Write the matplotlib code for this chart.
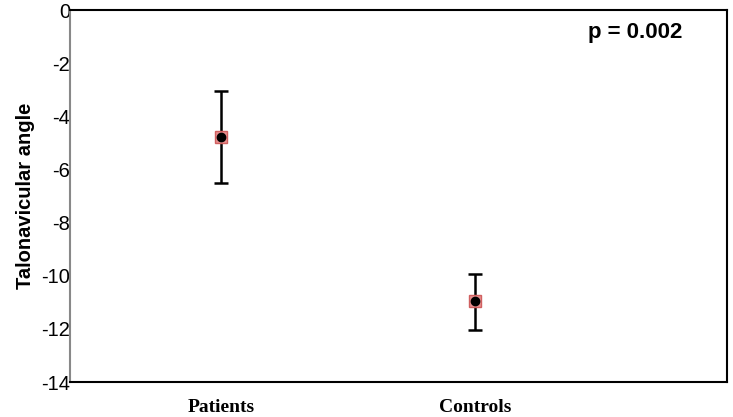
import numpy as np
import matplotlib.pyplot as plt

# data
groups = ["Patients", "Controls"]
means = [-4.78, -10.95]
upper = [-3.05, -9.94]
lower = [-6.51, -12.04]
p_text = "p = 0.002"

x = np.array([1, 2])
yerr = [np.array(means) - np.array(lower), np.array(upper) - np.array(means)]

fig = plt.figure(figsize=(7.33, 4.17), dpi=100)
ax = fig.add_axes([70 / 733, 35 / 417, 657 / 733, 372 / 417])

ax.errorbar(x, means, yerr=yerr, fmt="none", ecolor="black", elinewidth=1.8,
            capsize=5, capthick=1.8, zorder=2)
ax.plot(x, means, "s", ms=9, mfc="#e89090", mec="#d06060", zorder=3)
ax.plot(x, means, "o", ms=6, color="black", zorder=4)

ax.set_xlim(0.405, 2.99)
ax.set_ylim(-14, 0)
ax.set_yticks(np.arange(-14, 1, 2))
ax.set_yticklabels([str(v) for v in range(-14, 1, 2)], fontsize=14.5,
                   family="Liberation Sans")
ax.set_xticks(x)
ax.set_xticklabels(groups, fontsize=14, fontweight="bold", family="Liberation Serif")
ax.tick_params(axis="y", length=0, pad=0)
ax.tick_params(axis="x", length=0, pad=12)

ax.set_ylabel("Talonavicular angle", fontsize=14.5, fontweight="bold",
              family="Liberation Sans", labelpad=4)

for s in ["top", "right", "bottom"]:
    ax.spines[s].set_color("black")
    ax.spines[s].set_linewidth(1.5)
ax.spines["left"].set_color("#888888")
ax.spines["left"].set_linewidth(1.5)

ax.text(0.86, 0.94, p_text, transform=ax.transAxes, ha="center", va="center",
        fontsize=16, fontweight="bold", family="Liberation Sans")

fig.savefig("out.png", dpi=100)
